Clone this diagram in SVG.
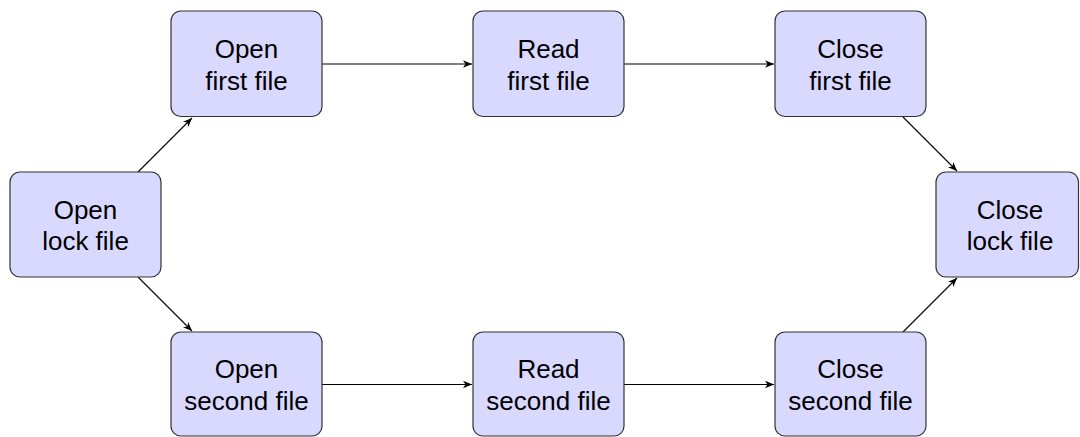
<svg xmlns="http://www.w3.org/2000/svg" width="1080" height="437" viewBox="0 0 1080 437">
<style>
.box{fill:#d9d9ff;stroke:#333;stroke-width:1.2}
.lbl{font-family:"Liberation Sans",Arial,sans-serif;font-size:26px;fill:#000;text-anchor:middle}
.edge{stroke:#000;stroke-width:1.1;fill:none;marker-end:url(#ah)}
</style>
<defs>
<marker id="ah" markerUnits="userSpaceOnUse" markerWidth="12" markerHeight="10" viewBox="-10 -5 12 10" refX="0" refY="0" orient="auto">
<path d="M0,0 L-9,-3.8 L-6.5,0 L-9,3.8 z" fill="#000"/>
</marker>
</defs>
<rect width="1080" height="437" fill="#fff"/>
<g id="connectors">
<line class="edge" x1="322" y1="64" x2="472" y2="64"/>
<line class="edge" x1="624" y1="64" x2="774" y2="64"/>
<line class="edge" x1="322" y1="384.5" x2="472" y2="384.5"/>
<line class="edge" x1="624" y1="384.5" x2="774" y2="384.5"/>
<line class="edge" x1="138" y1="172" x2="192" y2="118"/>
<line class="edge" x1="138" y1="277" x2="192" y2="331"/>
<line class="edge" x1="903" y1="117" x2="957" y2="171"/>
<line class="edge" x1="903" y1="332" x2="957" y2="278"/>
</g>
<g id="open-lock">
<rect class="box" x="10" y="172" width="151" height="105" rx="10"/>
<text class="lbl" x="85.5" y="218.5">Open</text>
<text class="lbl" x="85.5" y="249.5">lock file</text>
</g>
<g id="open-first">
<rect class="box" x="171" y="11" width="151" height="105.5" rx="10"/>
<text class="lbl" x="246.5" y="58">Open</text>
<text class="lbl" x="246.5" y="89.5">first file</text>
</g>
<g id="read-first">
<rect class="box" x="473" y="11" width="151" height="105.5" rx="10"/>
<text class="lbl" x="548.5" y="58">Read</text>
<text class="lbl" x="548.5" y="89.5">first file</text>
</g>
<g id="close-first">
<rect class="box" x="775" y="11" width="151" height="105.5" rx="10"/>
<text class="lbl" x="850.5" y="58">Close</text>
<text class="lbl" x="850.5" y="89.5">first file</text>
</g>
<g id="close-lock">
<rect class="box" x="936" y="172" width="142.5" height="105" rx="10"/>
<text class="lbl" x="1010" y="218.5">Close</text>
<text class="lbl" x="1010" y="249.5">lock file</text>
</g>
<g id="open-second">
<rect class="box" x="171" y="332" width="151" height="104" rx="10"/>
<text class="lbl" x="246.5" y="378">Open</text>
<text class="lbl" x="246.5" y="409.5">second file</text>
</g>
<g id="read-second">
<rect class="box" x="473" y="332" width="151" height="104" rx="10"/>
<text class="lbl" x="548.5" y="378">Read</text>
<text class="lbl" x="548.5" y="409.5">second file</text>
</g>
<g id="close-second">
<rect class="box" x="775" y="332" width="151" height="104" rx="10"/>
<text class="lbl" x="850.5" y="378">Close</text>
<text class="lbl" x="850.5" y="409.5">second file</text>
</g>
</svg>
